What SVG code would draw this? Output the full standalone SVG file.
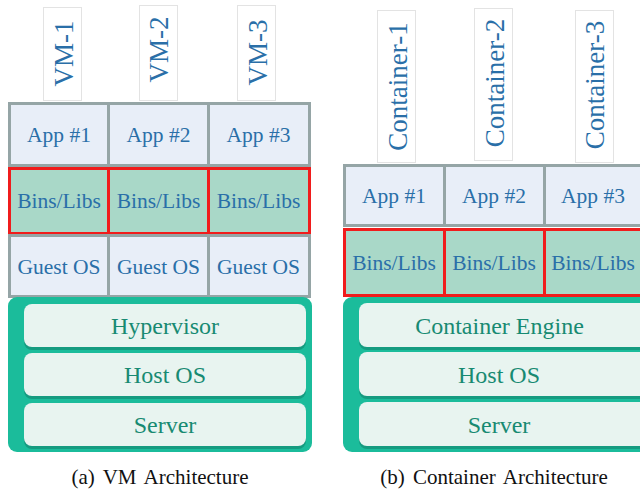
<svg xmlns="http://www.w3.org/2000/svg" width="640" height="493" viewBox="0 0 640 493">
  <style>
    text { font-family: 'Liberation Serif', 'Times New Roman', serif; }
    .tag { fill: #ffffff; stroke: #e3e3e3; stroke-width: 1; }
    .tagtxt { font-family: 'Liberation Serif', serif; font-size: 27px; fill: #2a6fa8; text-anchor: middle; }
    .app { fill: #e8eef8; stroke: #95a5a6; stroke-width: 3; }
    .lib { fill: #a9d8c8; stroke: #f01c1c; stroke-width: 3; }
    .cell { font-family: 'Liberation Serif', serif; font-size: 21.5px; fill: #2a6fa8; text-anchor: middle; }
    .base { fill: #1bbc9b; }
    .shade { fill: #159b80; }
    .layer { fill: #e8f4f0; }
    .ltxt { font-family: 'Liberation Serif', serif; font-size: 24px; fill: #178a72; text-anchor: middle; }
    .cap { font-family: 'Liberation Serif', serif; font-size: 21px; fill: #111; text-anchor: middle; word-spacing: 3px; }
  </style>

  <!-- (a) VM architecture -->
  <g id="vm-stack">
    <g id="vm1-tag">
      <rect class="tag" x="43.5" y="7.5" width="38" height="93"/>
      <text class="tagtxt" transform="translate(72.5,53.5) rotate(-90)">VM-1</text>
    </g>
    <g id="vm2-tag">
      <rect class="tag" x="139.5" y="5.5" width="38" height="95"/>
      <text class="tagtxt" transform="translate(167.5,49.5) rotate(-90)">VM-2</text>
    </g>
    <g id="vm3-tag">
      <rect class="tag" x="237.5" y="5.5" width="38" height="95"/>
      <text class="tagtxt" transform="translate(266.5,52.5) rotate(-90)">VM-3</text>
    </g>

    <g id="vm-apps">
      <rect class="app" x="9.5" y="103.5" width="99" height="62"/>
      <rect class="app" x="108.5" y="103.5" width="100" height="62"/>
      <rect class="app" x="208.5" y="103.5" width="101" height="62"/>
      <text class="cell" x="59" y="141.5">App #1</text>
      <text class="cell" x="158.5" y="141.5">App #2</text>
      <text class="cell" x="258.5" y="141.5">App #3</text>
    </g>
    <g id="vm-libs">
      <rect class="lib" x="9.5" y="168.5" width="99" height="65"/>
      <rect class="lib" x="108.5" y="168.5" width="100" height="65"/>
      <rect class="lib" x="208.5" y="168.5" width="101" height="65"/>
      <text class="cell" x="59" y="208">Bins/Libs</text>
      <text class="cell" x="158.5" y="208">Bins/Libs</text>
      <text class="cell" x="258.5" y="208">Bins/Libs</text>
    </g>
    <g id="vm-guests">
      <rect class="app" x="9.5" y="235.5" width="99" height="61"/>
      <rect class="app" x="108.5" y="235.5" width="100" height="61"/>
      <rect class="app" x="208.5" y="235.5" width="101" height="61"/>
      <text class="cell" x="59" y="273.5">Guest OS</text>
      <text class="cell" x="158.5" y="273.5">Guest OS</text>
      <text class="cell" x="258.5" y="273.5">Guest OS</text>
    </g>

    <g id="vm-host">
      <rect class="base" x="8" y="297" width="304" height="155" rx="9"/>
      <g id="hypervisor">
        <rect class="shade" x="24" y="305" width="282" height="45" rx="8"/>
        <rect class="layer" x="24" y="304" width="282" height="43" rx="8"/>
        <text class="ltxt" x="165" y="334">Hypervisor</text>
      </g>
      <g id="vm-hostos">
        <rect class="shade" x="24" y="354" width="282" height="45" rx="8"/>
        <rect class="layer" x="24" y="353" width="282" height="43" rx="8"/>
        <text class="ltxt" x="165" y="383">Host OS</text>
      </g>
      <g id="vm-server">
        <rect class="shade" x="24" y="404" width="282" height="45" rx="8"/>
        <rect class="layer" x="24" y="403" width="282" height="43" rx="8"/>
        <text class="ltxt" x="165" y="433">Server</text>
      </g>
    </g>
    <text class="cap" x="160" y="484">(a) VM Architecture</text>
  </g>

  <!-- (b) Container architecture -->
  <g id="ct-stack">
    <g id="ct1-tag">
      <rect class="tag" x="377.5" y="10.5" width="38" height="152"/>
      <text class="tagtxt" transform="translate(406.5,86.5) rotate(-90)">Container-1</text>
    </g>
    <g id="ct2-tag">
      <rect class="tag" x="474.5" y="8.5" width="38" height="152"/>
      <text class="tagtxt" transform="translate(503.5,83) rotate(-90)">Container-2</text>
    </g>
    <g id="ct3-tag">
      <rect class="tag" x="575.5" y="10.5" width="38" height="152"/>
      <text class="tagtxt" transform="translate(603.5,85) rotate(-90)">Container-3</text>
    </g>

    <g id="ct-apps">
      <rect class="app" x="344.5" y="165.5" width="100" height="60"/>
      <rect class="app" x="444.5" y="165.5" width="100" height="60"/>
      <rect class="app" x="544.5" y="165.5" width="100" height="60"/>
      <text class="cell" x="394" y="202.5">App #1</text>
      <text class="cell" x="494" y="202.5">App #2</text>
      <text class="cell" x="593" y="202.5">App #3</text>
    </g>
    <g id="ct-libs">
      <rect class="lib" x="344.5" y="229.5" width="100" height="66"/>
      <rect class="lib" x="444.5" y="229.5" width="100" height="66"/>
      <rect class="lib" x="544.5" y="229.5" width="100" height="66"/>
      <text class="cell" x="394" y="270">Bins/Libs</text>
      <text class="cell" x="494" y="270">Bins/Libs</text>
      <text class="cell" x="593" y="270">Bins/Libs</text>
    </g>

    <g id="ct-host">
      <rect class="base" x="343" y="297" width="310" height="155" rx="9"/>
      <g id="engine">
        <rect class="shade" x="359" y="304" width="295" height="46" rx="8"/>
        <rect class="layer" x="359" y="303" width="295" height="44" rx="8"/>
        <text class="ltxt" x="499.5" y="333.5">Container Engine</text>
      </g>
      <g id="ct-hostos">
        <rect class="shade" x="359" y="353" width="295" height="46" rx="8"/>
        <rect class="layer" x="359" y="352" width="295" height="44" rx="8"/>
        <text class="ltxt" x="499" y="383">Host OS</text>
      </g>
      <g id="ct-server">
        <rect class="shade" x="359" y="403" width="295" height="46" rx="8"/>
        <rect class="layer" x="359" y="402" width="295" height="44" rx="8"/>
        <text class="ltxt" x="499" y="433">Server</text>
      </g>
    </g>
    <text class="cap" x="494" y="484">(b) Container Architecture</text>
  </g>
</svg>
